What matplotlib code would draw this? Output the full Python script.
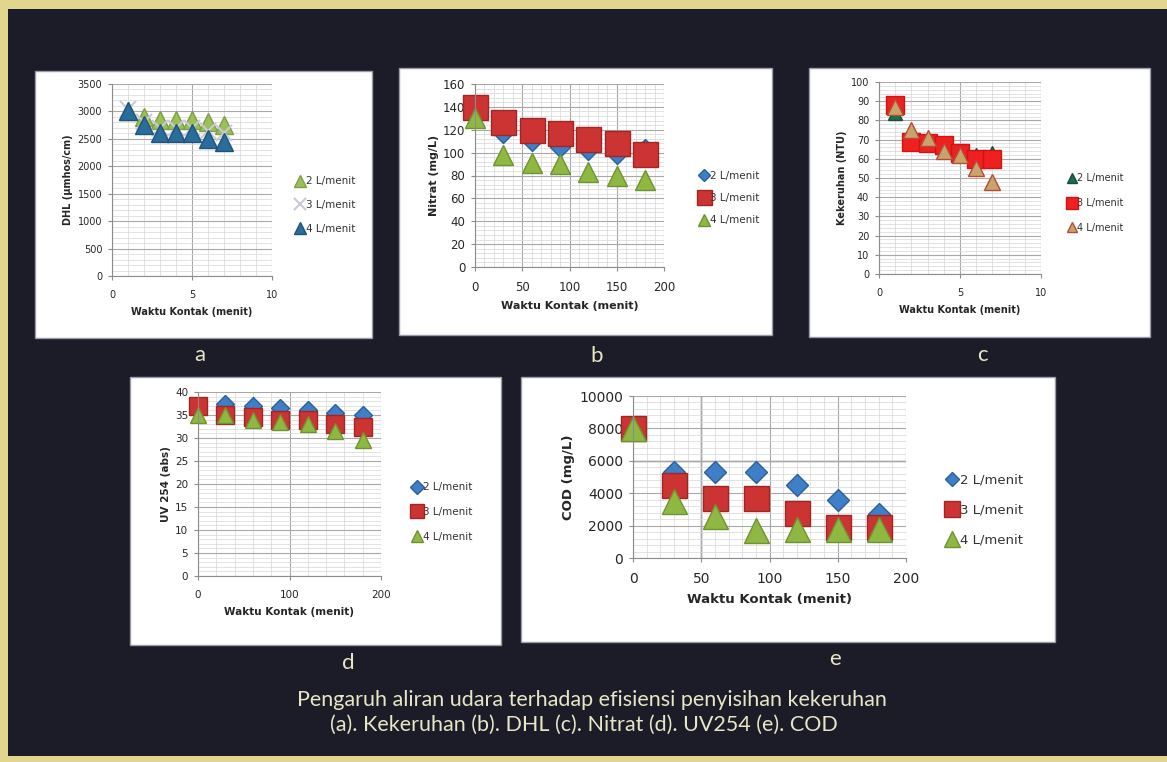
import matplotlib
matplotlib.use("Agg")
import matplotlib.pyplot as plt
from matplotlib.patches import Rectangle
from matplotlib.ticker import MultipleLocator

W, H = 1167, 762

# (a) DHL, waktu kontak 1..7
dhl_x = [1, 2, 3, 4, 5, 6, 7]
dhl_2 = [3000, 2900, 2850, 2850, 2850, 2800, 2750]
dhl_3 = [3050, 2800, 2700, 2700, 2700, 2650, 2600]
dhl_4 = [3000, 2750, 2600, 2600, 2600, 2500, 2450]

# (b) Nitrat
waktu = [0, 30, 60, 90, 120, 150, 180]
nitrat_2 = [136, 117, 110, 105, 102, 99, 103]
nitrat_3 = [140, 127, 120, 117, 112, 108, 99]
nitrat_4 = [130, 98, 91, 90, 83, 80, 76]

# (c) Kekeruhan
keruh_x = [1, 2, 3, 4, 5, 6, 7]
keruh_2 = [84, 70, 68, 66, 63, 62, 63]
keruh_3 = [88, 69, 68, 67, 63, 60, 60]
keruh_4 = [87, 75, 71, 64, 62, 55, 48]

# (d) UV 254
uv_2 = [37, 37.5, 37, 36.5, 36, 35.5, 35]
uv_3 = [37, 35, 34.5, 34, 34, 33, 32.5]
uv_4 = [35, 35, 34, 33.5, 33, 31.5, 29.5]

# (e) COD
cod_2 = [8000, 5300, 5300, 5300, 4500, 3600, 2700]
cod_3 = [8000, 4500, 3700, 3700, 2800, 1900, 1900]
cod_4 = [8000, 3500, 2600, 1700, 1800, 1800, 1800]

labels = ["2 L/menit", "3 L/menit", "4 L/menit"]
xlabel = "Waktu Kontak (menit)"

BLUE, RED, GREEN = "#3f7fc6", "#cc3333", "#8fb843"


def fbox(x0, y0, x1, y1):
    return [x0 / W, 1 - y1 / H, (x1 - x0) / W, (y1 - y0) / H]


def panel(fig, x0, y0, x1, y1):
    b = fbox(x0, y0, x1, y1)
    fig.add_artist(Rectangle((b[0], b[1]), b[2], b[3], transform=fig.transFigure,
                             fc="white", ec="#9a9aaa", lw=1, zorder=-1))


def style(ax, xlim, ylim, xmaj, xmin, ymaj, ymin, fs, xl, yl, lfs):
    ax.set_xlim(xlim)
    ax.set_ylim(ylim)
    ax.xaxis.set_major_locator(MultipleLocator(xmaj))
    ax.xaxis.set_minor_locator(MultipleLocator(xmin))
    ax.yaxis.set_major_locator(MultipleLocator(ymaj))
    ax.yaxis.set_minor_locator(MultipleLocator(ymin))
    ax.grid(which="major", color="#a8a8a8", lw=0.8)
    ax.grid(which="minor", color="#d6d6d6", lw=0.5)
    ax.set_axisbelow(True)
    ax.set_facecolor("white")
    for s in ["top", "right"]:
        ax.spines[s].set_visible(False)
    for s in ["left", "bottom"]:
        ax.spines[s].set_color("#8c8c8c")
    ax.tick_params(which="major", length=3, color="#8c8c8c", labelsize=fs,
                   labelcolor="#262626", pad=4)
    ax.tick_params(which="minor", length=0)
    ax.tick_params(axis="x", which="major", pad=7)
    ax.set_xlabel(xl, fontsize=lfs, fontweight="bold", color="#262626", labelpad=5)
    ax.set_ylabel(yl, fontsize=lfs, fontweight="bold", color="#262626", labelpad=3)


def legend(ax, x, y, fs, sp, ms=0.6):
    ax.legend(loc="center left", bbox_to_anchor=(x / W, 1 - y / H),
              bbox_transform=ax.figure.transFigure, frameon=False, fontsize=fs,
              labelspacing=sp, handlelength=0.8, handletextpad=0.15,
              borderpad=0, borderaxespad=0, markerscale=ms, labelcolor="#333333")


def pts(ax, x, y, m, ms, fc, ec, label, **kw):
    ax.plot(x, y, m, ms=ms, color=fc, mec=ec, label=label, clip_on=False, **kw)


fig = plt.figure(figsize=(W / 100, H / 100), dpi=100)
fig.patch.set_facecolor("#e2d68e")
fig.add_artist(Rectangle((8 / W, 1 - 756 / H), 1, (756 - 9) / H,
                         transform=fig.transFigure, fc="#1b1c28", ec="none", zorder=-2))

# panel a
panel(fig, 35, 71, 372, 338)
ax = fig.add_axes(fbox(112, 84, 272, 276))
pts(ax, dhl_x, dhl_2, "^", 13, "#9bbf59", "#7f9f45", labels[0])
pts(ax, dhl_x, dhl_3, "x", 12, "#c9c9d9", "#c9c9d9", labels[1], mew=1.5)
pts(ax, dhl_x, dhl_4, "^", 13, "#2a6c9c", "#1f5478", labels[2])
style(ax, (0, 10), (0, 3500), 5, 1, 500, 100, 7, xlabel, "DHL (µmhos/cm)", 7)
legend(ax, 296, 205, 7.5, 1.3, 0.7)

# panel b
panel(fig, 399, 68, 772, 335)
ax = fig.add_axes(fbox(475, 84, 664, 267))
pts(ax, waktu, nitrat_2, "D", 10, BLUE, "#2c5f99", labels[0])
pts(ax, waktu, nitrat_3, "s", 18, RED, "#a02626", labels[1])
pts(ax, waktu, nitrat_4, "^", 15, GREEN, "#6f9330", labels[2])
style(ax, (0, 200), (0, 160), 50, 10, 20, 4, 8.5, xlabel, "Nitrat (mg/L)", 8)
legend(ax, 700, 198, 7.5, 1.2, 0.6)

# panel c
panel(fig, 809, 68, 1150, 337)
ax = fig.add_axes(fbox(879, 82, 1041, 274))
pts(ax, keruh_x, keruh_2, "^", 10, "#1f6b4a", "#15503a", labels[0])
pts(ax, keruh_x, keruh_3, "s", 13, "#ee2020", "#cc1515", labels[1])
pts(ax, keruh_x, keruh_4, "^", 11, "#c9a46a", "#b84a3a", labels[2])
style(ax, (0, 10), (0, 100), 5, 1, 10, 2, 7, xlabel, "Kekeruhan (NTU)", 7)
legend(ax, 1068, 203, 7, 1.5, 0.7)

# panel d
panel(fig, 130, 377, 501, 645)
ax = fig.add_axes(fbox(198, 392, 381, 576))
pts(ax, waktu, uv_2, "D", 9, BLUE, "#2c5f99", labels[0])
pts(ax, waktu, uv_3, "s", 13, RED, "#a02626", labels[1])
pts(ax, waktu, uv_4, "^", 12, GREEN, "#6f9330", labels[2])
style(ax, (0, 200), (0, 40), 100, 20, 5, 1, 7.5, xlabel, "UV 254 (abs)", 7.5)
legend(ax, 413, 512, 7.5, 1.4, 0.75)

# panel e
panel(fig, 521, 377, 1055, 642)
ax = fig.add_axes(fbox(633, 396, 906, 558))
pts(ax, waktu, cod_2, "D", 11, BLUE, "#2c5f99", labels[0])
pts(ax, waktu, cod_3, "s", 18, RED, "#a02626", labels[1])
pts(ax, waktu, cod_4, "^", 18, GREEN, "#6f9330", labels[2])
style(ax, (0, 200), (0, 10000), 50, 10, 2000, 400, 10, xlabel, "COD (mg/L)", 9.5)
ax.axhline(6000, color="#7a7a7a", lw=1, zorder=0.5)
ax.axvline(50, color="#7a7a7a", lw=1, zorder=0.5)
legend(ax, 947, 510, 9.5, 1.3, 0.65)

# captions
txt = dict(color="#e8e6c6", family=["Lato", "DejaVu Sans"], ha="center", va="center")
for ch, (x, y) in zip("abcde", [(200, 355), (597, 356), (982, 355), (348, 663), (835, 659)]):
    fig.text(x / W, 1 - y / H, ch, fontsize=16, **txt)
fig.text(592 / W, 1 - 700 / H, "Pengaruh aliran udara terhadap efisiensi penyisihan kekeruhan",
         fontsize=15.5, **txt)
fig.text(584 / W, 1 - 725 / H, "(a). Kekeruhan (b). DHL (c). Nitrat (d). UV254 (e). COD",
         fontsize=15.5, **txt)

fig.savefig("out.png", dpi=100, facecolor=fig.get_facecolor())
